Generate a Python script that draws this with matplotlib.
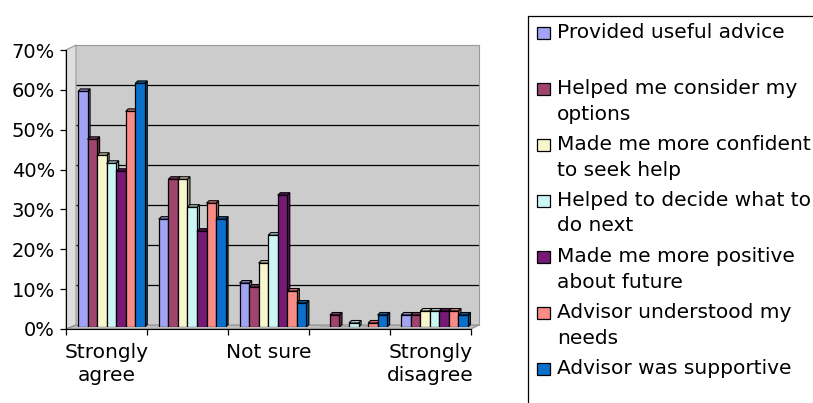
import numpy as np
import matplotlib.pyplot as plt
from matplotlib.patches import Polygon, Rectangle
from matplotlib.colors import to_rgb

# survey answers, share of respondents per statement
categories = ["Strongly agree", "Agree", "Not sure", "Disagree", "Strongly disagree"]
tick_labels = ["Strongly\nagree", "", "Not sure", "", "Strongly\ndisagree"]

series_names = [
    "Provided useful advice",
    "Helped me consider my\noptions",
    "Made me more confident\nto seek help",
    "Helped to decide what to\ndo next",
    "Made me more positive\nabout future",
    "Advisor understood my\nneeds",
    "Advisor was supportive",
]
series_colors = ["#a3a3f5", "#a0446e", "#f8f6cc", "#ccf6f6", "#761a76", "#f98c86", "#0a70cc"]

useful_advice = [0.59, 0.27, 0.11, 0.00, 0.03]
consider_options = [0.47, 0.37, 0.10, 0.03, 0.03]
more_confident = [0.43, 0.37, 0.16, 0.00, 0.04]
decide_next = [0.41, 0.30, 0.23, 0.01, 0.04]
more_positive = [0.39, 0.24, 0.33, 0.00, 0.04]
understood_needs = [0.54, 0.31, 0.09, 0.01, 0.04]
supportive = [0.61, 0.27, 0.06, 0.03, 0.03]
values = [useful_advice, consider_options, more_confident, decide_next,
          more_positive, understood_needs, supportive]

W, H = 813, 403
fig = plt.figure(figsize=(W / 100, H / 100), dpi=100)
plt.rcParams['font.family'] = ['DejaVu Sans']
FS = 14


def px_axes(x0, y0, x1, y1):
    return fig.add_axes([x0 / W, 1 - y1 / H, (x1 - x0) / W, (y1 - y0) / H])


def fxy(pts):
    return [(x / W, 1 - y / H) for x, y in pts]


def shade(col, f):
    return tuple(c * f for c in to_rgb(col))


n_cat = len(categories)

# back wall with gridlines
wall = px_axes(76, 45, 479, 325)
wall.set_zorder(0)
wall.set_facecolor("#cccccc")
wall.set_xlim(0, n_cat)
wall.set_ylim(0, 0.7)
for g in np.arange(0.1, 0.65, 0.1):
    wall.axhline(g, color="black", lw=0.9)
wall.set_xticks([])
wall.set_yticks([])
for s in ["left", "bottom"]:
    wall.spines[s].set_visible(False)
for s in ["top", "right"]:
    wall.spines[s].set_color("#9a9a9a")

# side wall and floor
fig.add_artist(Polygon(fxy([(66, 50), (76, 45), (76, 325), (66, 329)]),
                       closed=True, transform=fig.transFigure,
                       facecolor="#dedede", edgecolor="#9a9a9a", lw=0.8, zorder=1))
fig.add_artist(Polygon(fxy([(66, 329), (76, 325), (479, 325), (471, 329)]),
                       closed=True, transform=fig.transFigure,
                       facecolor="#bdbdbd", edgecolor="#8a8a8a", lw=0.8, zorder=1))

# bars, with a thin top and side face for depth
ax = px_axes(71, 47.5, 475, 327)
ax.set_zorder(2)
ax.patch.set_alpha(0)
ax.set_xlim(0, n_cat)
ax.set_ylim(0, 0.7)
ax.axis("off")
bw = 0.118
dx = 2.5 / (404 / n_cat)
dy = 2.5 / (279.5 / 0.7)
x = np.arange(n_cat) + 0.5
n_ser = len(values)
for i, (vals, col) in enumerate(zip(values, series_colors)):
    offs = (i - (n_ser - 1) / 2) * bw
    for xc, h in zip(x + offs, vals):
        if h <= 0:
            continue
        x0, x1 = xc - bw / 2, xc + bw / 2
        ax.add_patch(Polygon([(x1, 0), (x1 + dx, dy), (x1 + dx, h + dy), (x1, h)],
                             closed=True, facecolor=shade(col, 0.7),
                             edgecolor="black", lw=0.8, zorder=2 + i))
        ax.add_patch(Polygon([(x0, h), (x0 + dx, h + dy), (x1 + dx, h + dy), (x1, h)],
                             closed=True, facecolor=shade(col, 0.85),
                             edgecolor="black", lw=0.8, zorder=2 + i))
    ax.bar(x + offs, vals, width=bw, color=col, edgecolor="black", lw=0.9, zorder=2.5 + i)

# front axes with ticks and labels
fr = px_axes(66, 50, 471, 329)
fr.set_zorder(3)
fr.patch.set_alpha(0)
fr.set_xlim(0, n_cat)
fr.set_ylim(0, 0.7)
for s in ["top", "right"]:
    fr.spines[s].set_visible(False)
fr.spines["left"].set_color("black")
fr.spines["bottom"].set_color("black")
yt = np.arange(0, 0.71, 0.1)
fr.set_yticks(yt)
fr.set_yticklabels([f"{int(round(v * 100))}%" for v in yt], fontsize=FS)
fr.tick_params(axis="y", direction="out", length=4, width=0.9, pad=4)
fr.set_xticks(x)
fr.set_xticklabels(tick_labels, fontsize=FS + 0.5, linespacing=1.3)
fr.set_xticks(np.arange(n_cat + 1), minor=True)
fr.tick_params(axis="x", which="major", length=0, pad=10)
fr.tick_params(axis="x", which="minor", direction="out", length=4, width=0.9)

# legend box
fig.add_artist(Rectangle((528 / W, -0.1), 1.0, 1 - 16 / H + 0.1,
                         transform=fig.transFigure, facecolor="white",
                         edgecolor="black", lw=0.9, zorder=1))
for i, (name, col) in enumerate(zip(series_names, series_colors)):
    yc = 33 + 56 * i
    fig.add_artist(Rectangle((537 / W, 1 - (yc + 6) / H), 13 / W, 12 / H,
                             transform=fig.transFigure, facecolor=col,
                             edgecolor="black", lw=0.9, zorder=2))
    for j, line in enumerate(name.split("\n")):
        fig.text(557 / W, 1 - (yc + 25 * j) / H, line, fontsize=FS + 0.5,
                 ha="left", va="center", zorder=3)

plt.savefig("out.png", dpi=100)
